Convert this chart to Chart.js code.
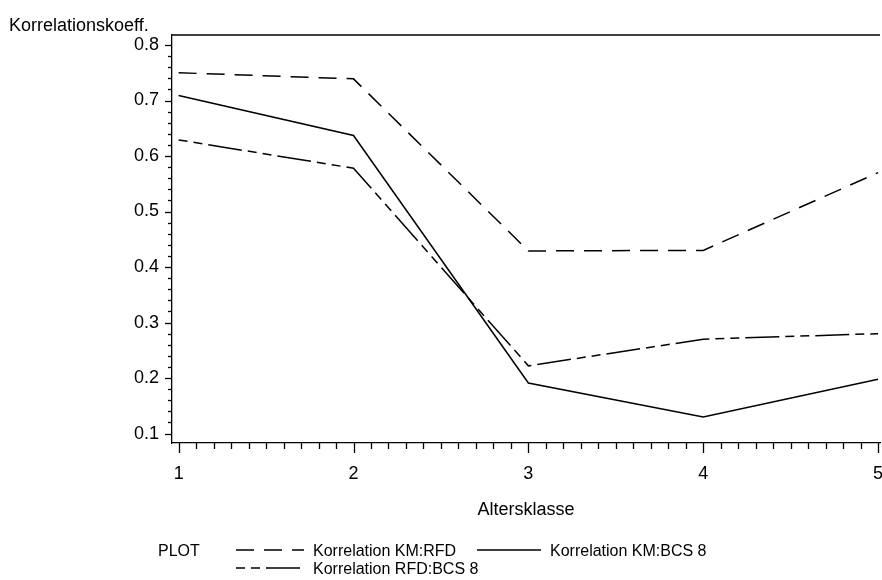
<!DOCTYPE html>
<html>
<head>
<meta charset="utf-8">
<script src="https://cdn.jsdelivr.net/npm/chart.js@4/dist/chart.umd.min.js"></script>
<style>
  html, body { margin: 0; padding: 0; background: #fff; }
  #wrap { width: 882px; height: 580px; }
</style>
</head>
<body>
<div id="wrap"><canvas id="korrChart" width="882" height="580"></canvas></div>
<script>
// Altersklassen on the x axis
const klassen = [1, 2, 3, 4, 5];
const kmRfd  = [0.750, 0.739, 0.429, 0.430, 0.570];
const kmBcs  = [0.709, 0.637, 0.191, 0.130, 0.198];
const rfdBcs = [0.629, 0.578, 0.222, 0.270, 0.280];
const yTicks = [0.1, 0.2, 0.3, 0.4, 0.5, 0.6, 0.7, 0.8];
const xTicks = [1, 2, 3, 4, 5];

const FONT = '"Liberation Sans", Arial, sans-serif';
const FSIZE = 18;
const LSIZE = 16;

const series = [
  { label: 'Korrelation KM:RFD', data: kmRfd, dash: [18, 10] },
  { label: 'Korrelation KM:BCS 8', data: kmBcs, dash: [] },
  { label: 'Korrelation RFD:BCS 8', data: rfdBcs, dash: [9, 6, 9, 6, 34, 6] }
];

function pts(arr) {
  return klassen.map((k, i) => ({ x: k, y: arr[i] }));
}

// frame, minor ticks, titles and the SAS-style legend
const sasDecor = {
  id: 'sasDecor',
  afterDraw(chart) {
    const ctx = chart.ctx;
    const a = chart.chartArea;
    const xs = chart.scales.x, ys = chart.scales.y;
    ctx.save();
    ctx.strokeStyle = '#000';
    ctx.lineWidth = 1.3;
    ctx.beginPath();
    ctx.moveTo(a.left, a.top);
    ctx.lineTo(a.right, a.top);
    ctx.stroke();

    // y ticks: major 0.1, minor 0.02
    for (let i = 4; i <= 41; i++) {
      const v = i * 0.02;
      if (v < ys.min || v > ys.max) continue;
      const py = Math.round(ys.getPixelForValue(v)) + 0.5;
      const len = (i % 5 === 0) ? 7 : 4;
      ctx.beginPath();
      ctx.moveTo(a.left - len, py);
      ctx.lineTo(a.left, py);
      ctx.stroke();
    }
    // x ticks: major 1, minor 0.1
    for (let i = 10; i <= 50; i++) {
      const v = i / 10;
      const px = Math.round(xs.getPixelForValue(v)) + 0.5;
      const len = (i % 10 === 0) ? 10 : 6;
      ctx.beginPath();
      ctx.moveTo(px, a.bottom);
      ctx.lineTo(px, a.bottom + len);
      ctx.stroke();
    }

    ctx.fillStyle = '#000';
    ctx.font = FSIZE + 'px ' + FONT;
    ctx.textBaseline = 'alphabetic';
    ctx.textAlign = 'left';
    ctx.fillText('Korrelationskoeff.', 9, 31);

    ctx.textAlign = 'center';
    ctx.fillText('Altersklasse', (a.left + a.right) / 2, 515);

    // legend
    ctx.font = LSIZE + 'px ' + FONT;
    ctx.textAlign = 'left';
    ctx.fillText('PLOT', 158, 556);
    const rows = [
      { s: series[0], x: 236, w: 68, y: 556 },
      { s: series[1], x: 477, w: 64, y: 556 },
      { s: series[2], x: 236, w: 68, y: 574 }
    ];
    rows.forEach(r => {
      ctx.lineWidth = 1.5;
      ctx.setLineDash(r.s.dash);
      ctx.beginPath();
      ctx.moveTo(r.x, r.y - 6);
      ctx.lineTo(r.x + r.w, r.y - 6);
      ctx.stroke();
      ctx.setLineDash([]);
      ctx.fillText(r.s.label, r.x + r.w + 9, r.y);
    });
    ctx.restore();
  }
};

new Chart(document.getElementById('korrChart').getContext('2d'), {
  type: 'line',
  data: {
    datasets: series.map(s => ({
      label: s.label,
      data: pts(s.data),
      borderColor: '#000',
      borderWidth: 1.5,
      borderDash: s.dash,
      pointRadius: 0,
      fill: false,
      tension: 0
    }))
  },
  options: {
    responsive: false,
    animation: false,
    events: [],
    layout: { padding: { left: 0, right: 2, top: 35, bottom: 0 } },
    plugins: { legend: { display: false }, tooltip: { enabled: false } },
    scales: {
      x: {
        type: 'linear',
        min: 0.962,
        max: 5.011,
        afterFit(scale) {
          scale.height = 137;
          scale.paddingLeft = 0;
          scale.paddingRight = 0;
        },
        afterBuildTicks(scale) { scale.ticks = xTicks.map(v => ({ value: v })); },
        grid: { display: false, drawTicks: false },
        border: { color: '#000', width: 1.3 },
        ticks: {
          color: '#000',
          padding: 20,
          maxRotation: 0,
          font: { family: FONT, size: FSIZE },
          callback: v => String(v)
        }
      },
      y: {
        type: 'linear',
        min: 0.083,
        max: 0.818,
        afterFit(scale) {
          scale.width = 172;
          scale.paddingTop = 0;
          scale.paddingBottom = 0;
        },
        afterBuildTicks(scale) { scale.ticks = yTicks.map(v => ({ value: v })); },
        grid: { display: false, drawTicks: false },
        border: { color: '#000', width: 1.3 },
        ticks: {
          color: '#000',
          padding: 13,
          font: { family: FONT, size: FSIZE },
          callback: v => v.toFixed(1)
        }
      }
    }
  },
  plugins: [sasDecor]
});
</script>
</body>
</html>
